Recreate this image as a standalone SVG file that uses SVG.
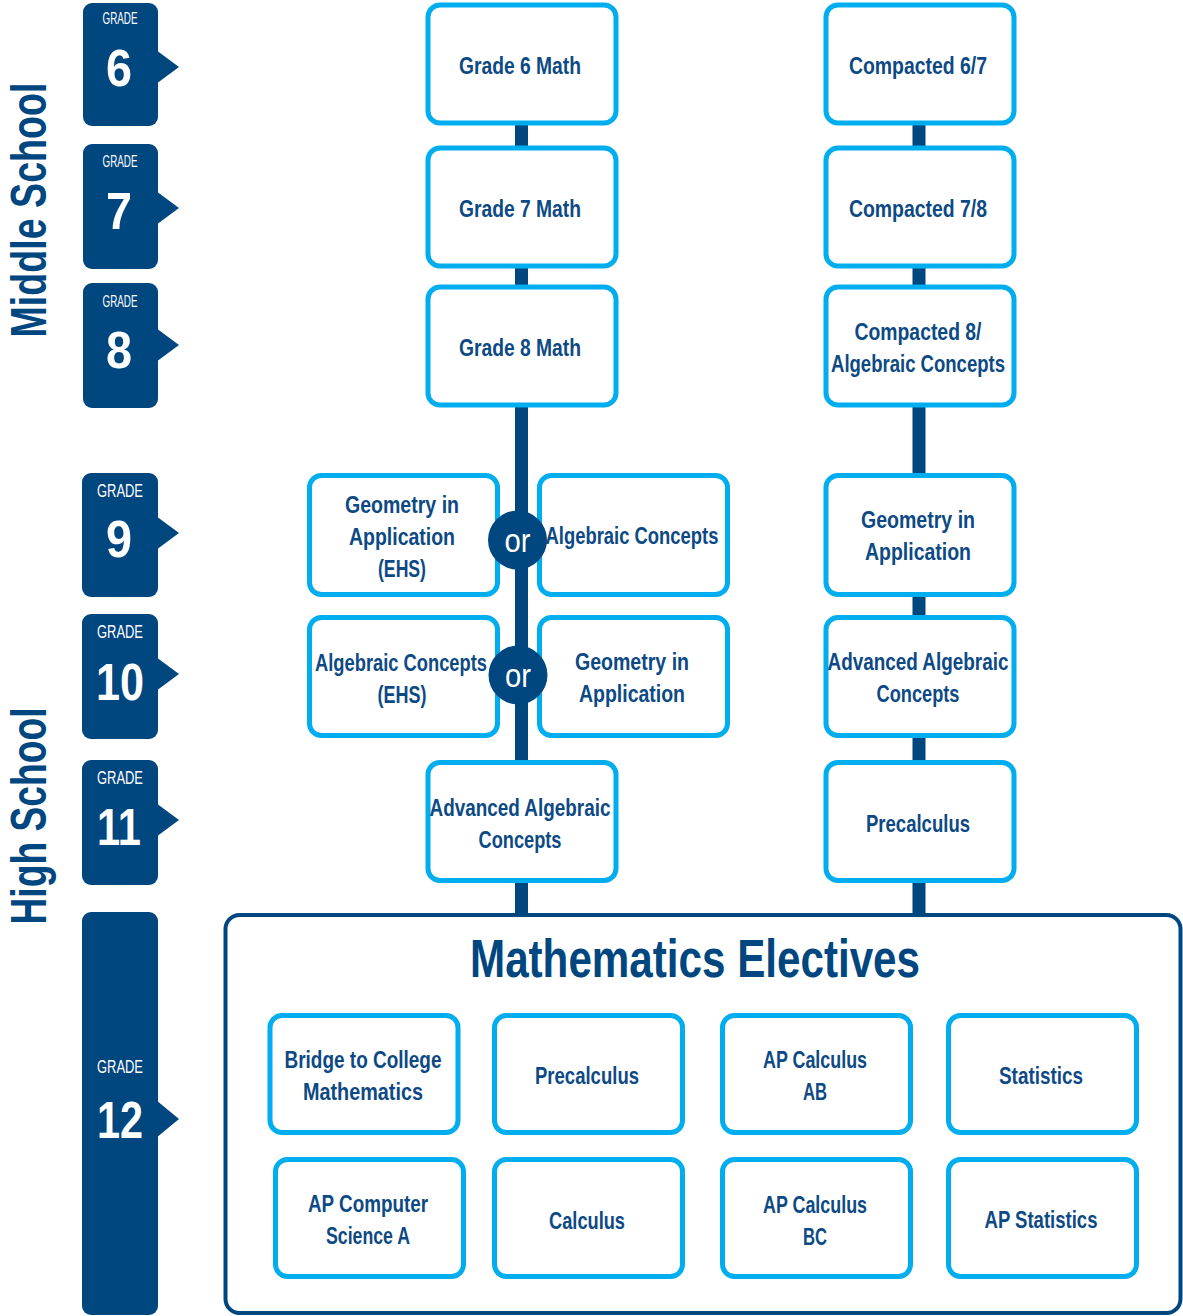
<svg xmlns="http://www.w3.org/2000/svg" width="1183" height="1316" viewBox="0 0 1183 1316">
<style>
.tab{fill:#00467F}
.box{fill:#fff;stroke:#00AEEF;stroke-width:5}
.t{font-family:"Liberation Sans",Arial,sans-serif;font-weight:bold;font-size:24px;fill:#0D4A85;text-anchor:middle}
.title{font-family:"Liberation Sans",Arial,sans-serif;font-weight:bold;font-size:54px;fill:#00467F;text-anchor:middle}
.g{font-family:"Liberation Sans",Arial,sans-serif;font-size:16px;fill:#fff;text-anchor:middle}
.g2{font-family:"Liberation Sans",Arial,sans-serif;font-size:18px;fill:#fff;text-anchor:middle}
.n{font-family:"Liberation Sans",Arial,sans-serif;font-weight:bold;font-size:52px;fill:#fff;text-anchor:middle}
.side{font-family:"Liberation Sans",Arial,sans-serif;font-weight:bold;font-size:50px;fill:#00467F;text-anchor:middle}
.or{font-family:"Liberation Sans",Arial,sans-serif;font-size:34px;fill:#fff;text-anchor:middle}
.line{stroke:#00467F;stroke-width:13;fill:none}
</style>
<rect width="1183" height="1316" fill="#fff"/>

<g id="side-labels">
<text class="side" transform="translate(46,210) rotate(-90)" textLength="255" lengthAdjust="spacingAndGlyphs">Middle School</text>
<text class="side" transform="translate(46,816) rotate(-90)" textLength="217" lengthAdjust="spacingAndGlyphs">High School</text>
</g>

<g id="connectors">
<line class="line" x1="521.5" y1="120" x2="521.5" y2="916"/>
<line class="line" x1="919" y1="120" x2="919" y2="916"/>
</g>

<g id="tab6"><rect class="tab" x="83" y="3" width="75" height="123" rx="9"/><polygon class="tab" points="156,50 179,67 156,84"/><text class="g" x="120" y="24" textLength="35" lengthAdjust="spacingAndGlyphs">GRADE</text><text class="n" x="119" y="86" textLength="26" lengthAdjust="spacingAndGlyphs">6</text></g>
<g id="tab7"><rect class="tab" x="83" y="144" width="75" height="125" rx="9"/><polygon class="tab" points="156,191 179,208 156,225"/><text class="g" x="120" y="167" textLength="35" lengthAdjust="spacingAndGlyphs">GRADE</text><text class="n" x="119" y="229" textLength="26" lengthAdjust="spacingAndGlyphs">7</text></g>
<g id="tab8"><rect class="tab" x="83" y="283" width="75" height="125" rx="9"/><polygon class="tab" points="156,328 179,345 156,362"/><text class="g" x="120" y="307" textLength="35" lengthAdjust="spacingAndGlyphs">GRADE</text><text class="n" x="119" y="368" textLength="26" lengthAdjust="spacingAndGlyphs">8</text></g>
<g id="tab9"><rect class="tab" x="82" y="473" width="76" height="124" rx="9"/><polygon class="tab" points="156,516 179,533 156,550"/><text class="g2" x="120" y="497" textLength="46" lengthAdjust="spacingAndGlyphs">GRADE</text><text class="n" x="119" y="557" textLength="26" lengthAdjust="spacingAndGlyphs">9</text></g>
<g id="tab10"><rect class="tab" x="82" y="614" width="76" height="125" rx="9"/><polygon class="tab" points="156,657 179,674 156,691"/><text class="g2" x="120" y="638" textLength="46" lengthAdjust="spacingAndGlyphs">GRADE</text><text class="n" x="120" y="700" textLength="48" lengthAdjust="spacingAndGlyphs">10</text></g>
<g id="tab11"><rect class="tab" x="82" y="760" width="76" height="125" rx="9"/><polygon class="tab" points="156,803 179,820 156,837"/><text class="g2" x="120" y="784" textLength="46" lengthAdjust="spacingAndGlyphs">GRADE</text><text class="n" x="119" y="845" textLength="44" lengthAdjust="spacingAndGlyphs">11</text></g>
<g id="tab12"><rect class="tab" x="82" y="912" width="76" height="403" rx="9"/><polygon class="tab" points="156,1100 179,1119 156,1138"/><text class="g2" x="120" y="1073" textLength="46" lengthAdjust="spacingAndGlyphs">GRADE</text><text class="n" x="120" y="1138" textLength="46" lengthAdjust="spacingAndGlyphs">12</text></g>

<g id="grade6math"><rect class="box" x="428" y="5" width="188" height="118" rx="12"/><text class="t" x="520" y="74" textLength="122" lengthAdjust="spacingAndGlyphs">Grade 6 Math</text></g>
<g id="compacted67"><rect class="box" x="826" y="5" width="188" height="118" rx="12"/><text class="t" x="918" y="74" textLength="138" lengthAdjust="spacingAndGlyphs">Compacted 6/7</text></g>
<g id="grade7math"><rect class="box" x="428" y="148" width="188" height="118" rx="12"/><text class="t" x="520" y="217" textLength="122" lengthAdjust="spacingAndGlyphs">Grade 7 Math</text></g>
<g id="compacted78"><rect class="box" x="826" y="148" width="188" height="118" rx="12"/><text class="t" x="918" y="217" textLength="138" lengthAdjust="spacingAndGlyphs">Compacted 7/8</text></g>
<g id="grade8math"><rect class="box" x="428" y="287" width="188" height="118" rx="12"/><text class="t" x="520" y="356" textLength="122" lengthAdjust="spacingAndGlyphs">Grade 8 Math</text></g>
<g id="compacted8"><rect class="box" x="826" y="287" width="188" height="118" rx="12"/><text class="t" x="918" y="340" textLength="127" lengthAdjust="spacingAndGlyphs">Compacted 8/</text><text class="t" x="918" y="372" textLength="174" lengthAdjust="spacingAndGlyphs">Algebraic Concepts</text></g>

<g id="geo9ehs"><rect class="box" x="309.5" y="475.5" width="188" height="119" rx="12"/><text class="t" x="402" y="513" textLength="114" lengthAdjust="spacingAndGlyphs">Geometry in</text><text class="t" x="402" y="545" textLength="106" lengthAdjust="spacingAndGlyphs">Application</text><text class="t" x="402" y="577" textLength="48" lengthAdjust="spacingAndGlyphs">(EHS)</text></g>
<g id="alg9"><rect class="box" x="539.5" y="475.5" width="188" height="119" rx="12"/><text class="t" x="632" y="544" textLength="173" lengthAdjust="spacingAndGlyphs">Algebraic Concepts</text></g>
<g id="or9"><circle cx="517.5" cy="540" r="29.5" fill="#00467F"/><text class="or" x="517.5" y="552" textLength="26" lengthAdjust="spacingAndGlyphs">or</text></g>
<g id="geo9"><rect class="box" x="826" y="475.5" width="188" height="119" rx="12"/><text class="t" x="918" y="528" textLength="114" lengthAdjust="spacingAndGlyphs">Geometry in</text><text class="t" x="918" y="560" textLength="106" lengthAdjust="spacingAndGlyphs">Application</text></g>

<g id="alg10ehs"><rect class="box" x="309.5" y="617.5" width="188" height="118" rx="12"/><text class="t" x="401" y="671" textLength="172" lengthAdjust="spacingAndGlyphs">Algebraic Concepts</text><text class="t" x="402" y="703" textLength="49" lengthAdjust="spacingAndGlyphs">(EHS)</text></g>
<g id="geo10"><rect class="box" x="539.5" y="617.5" width="188" height="118" rx="12"/><text class="t" x="632" y="670" textLength="114" lengthAdjust="spacingAndGlyphs">Geometry in</text><text class="t" x="632" y="702" textLength="106" lengthAdjust="spacingAndGlyphs">Application</text></g>
<g id="or10"><circle cx="518" cy="675" r="29.5" fill="#00467F"/><text class="or" x="518" y="687" textLength="26" lengthAdjust="spacingAndGlyphs">or</text></g>
<g id="advalg10"><rect class="box" x="826" y="617.5" width="188" height="118" rx="12"/><text class="t" x="918" y="670" textLength="181" lengthAdjust="spacingAndGlyphs">Advanced Algebraic</text><text class="t" x="918" y="702" textLength="83" lengthAdjust="spacingAndGlyphs">Concepts</text></g>

<g id="advalg11"><rect class="box" x="428" y="762.5" width="188" height="118" rx="12"/><text class="t" x="520" y="816" textLength="181" lengthAdjust="spacingAndGlyphs">Advanced Algebraic</text><text class="t" x="520" y="848" textLength="83" lengthAdjust="spacingAndGlyphs">Concepts</text></g>
<g id="precalc11"><rect class="box" x="826" y="762.5" width="188" height="118" rx="12"/><text class="t" x="918" y="832" textLength="104" lengthAdjust="spacingAndGlyphs">Precalculus</text></g>

<g id="electives">
<rect x="225.5" y="915" width="955" height="398" rx="14" fill="#fff" stroke="#00467F" stroke-width="4"/>
<text class="title" x="695" y="977" textLength="450" lengthAdjust="spacingAndGlyphs">Mathematics Electives</text>
</g>
<g id="bridge"><rect class="box" x="270" y="1015.5" width="188" height="117" rx="12"/><text class="t" x="363" y="1068" textLength="157" lengthAdjust="spacingAndGlyphs">Bridge to College</text><text class="t" x="363" y="1100" textLength="120" lengthAdjust="spacingAndGlyphs">Mathematics</text></g>
<g id="precalc12"><rect class="box" x="494.5" y="1015.5" width="188" height="117" rx="12"/><text class="t" x="587" y="1084" textLength="104" lengthAdjust="spacingAndGlyphs">Precalculus</text></g>
<g id="apcalcab"><rect class="box" x="722.5" y="1015.5" width="188" height="117" rx="12"/><text class="t" x="815" y="1068" textLength="104" lengthAdjust="spacingAndGlyphs">AP Calculus</text><text class="t" x="815" y="1100" textLength="24" lengthAdjust="spacingAndGlyphs">AB</text></g>
<g id="statistics"><rect class="box" x="948.5" y="1015.5" width="188" height="117" rx="12"/><text class="t" x="1041" y="1084" textLength="84" lengthAdjust="spacingAndGlyphs">Statistics</text></g>
<g id="apcs"><rect class="box" x="275.5" y="1159.5" width="188" height="117" rx="12"/><text class="t" x="368" y="1212" textLength="120" lengthAdjust="spacingAndGlyphs">AP Computer</text><text class="t" x="368" y="1244" textLength="84" lengthAdjust="spacingAndGlyphs">Science A</text></g>
<g id="calculus"><rect class="box" x="494.5" y="1159.5" width="188" height="117" rx="12"/><text class="t" x="587" y="1229" textLength="76" lengthAdjust="spacingAndGlyphs">Calculus</text></g>
<g id="apcalcbc"><rect class="box" x="722.5" y="1159.5" width="188" height="117" rx="12"/><text class="t" x="815" y="1213" textLength="104" lengthAdjust="spacingAndGlyphs">AP Calculus</text><text class="t" x="815" y="1245" textLength="24" lengthAdjust="spacingAndGlyphs">BC</text></g>
<g id="apstats"><rect class="box" x="948.5" y="1159.5" width="188" height="117" rx="12"/><text class="t" x="1041" y="1228" textLength="113" lengthAdjust="spacingAndGlyphs">AP Statistics</text></g>
</svg>
